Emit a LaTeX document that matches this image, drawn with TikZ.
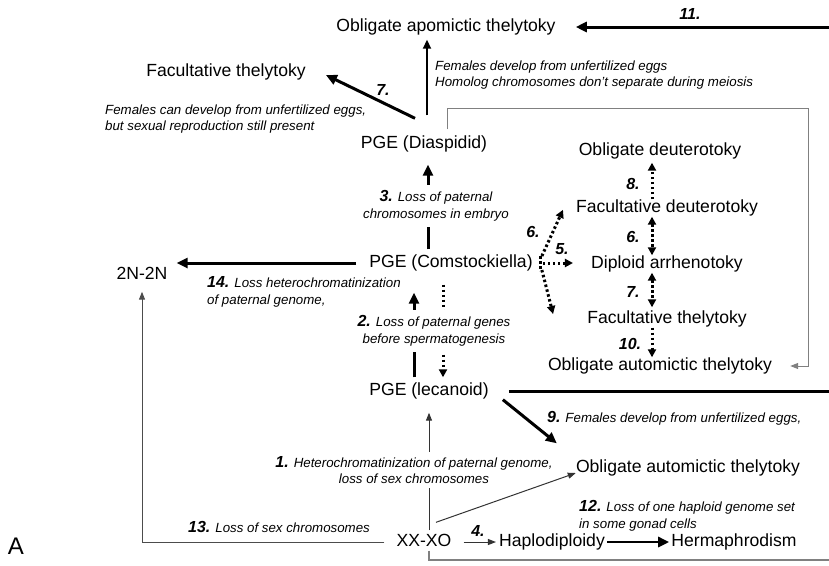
\documentclass[tikz,border=0pt]{standalone}
\usepackage{fontspec}
\setmainfont{Liberation Sans}
\usetikzlibrary{arrows.meta}
\newcommand\bn[1]{{\fontsize{16}{16}\selectfont\bfseries #1}}
\begin{document}
\begin{tikzpicture}[x=1pt,y=-1pt,
  lbl/.style={inner sep=0pt, font=\fontsize{17.6}{20}\selectfont, text height=13pt, text depth=4pt},
  note/.style={inner sep=1pt, font=\fontsize{13.3}{16.5}\selectfont\itshape},
  num/.style={inner sep=0pt, font=\fontsize{16}{18}\selectfont\bfseries\itshape},
  thickarr/.style={line width=3pt, -{Triangle[length=11pt,width=10pt]}},
  thinarr/.style={line width=1pt, draw=black!80, -{Triangle[length=8pt,width=6pt]}},
  medarr/.style={line width=1.8pt, -{Triangle[length=9pt,width=8pt]}},
  grayline/.style={line width=1.8pt, draw=black!50},
  dotline/.style={line width=3pt, dash pattern=on 2.5pt off 2.5pt},
  dotarr/.style={dotline, -{Triangle[length=8pt,width=8pt]}},
  dotdbl/.style={dotline, {Triangle[length=8pt,width=8pt]}-{Triangle[length=8pt,width=8pt]}},
]
\useasboundingbox (0,0) rectangle (829,565);

% main labels
\node[lbl] (apo) at (446,27) {Obligate apomictic thelytoky};
\node[lbl] (facT) at (226,72) {Facultative thelytoky};
\node[lbl] (diasp) at (424,144) {PGE (Diaspidid)};
\node[lbl] (comst) at (451,263) {PGE (Comstockiella)};
\node[lbl] (lec) at (429,391) {PGE (lecanoid)};
\node[lbl] (twoN) at (142,275) {2N-2N};
\node[lbl] (obD) at (660,151) {Obligate deuterotoky};
\node[lbl] (facD) at (667,208) {Facultative deuterotoky};
\node[lbl] (dipA) at (667,264) {Diploid arrhenotoky};
\node[lbl] (facT2) at (667,319) {Facultative thelytoky};
\node[lbl] (obA1) at (660,366) {Obligate automictic thelytoky};
\node[lbl] (obA2) at (688,468) {Obligate automictic thelytoky};
\node[lbl] (xx) at (424,542) {XX-XO};
\node[lbl] (hap) at (552,542) {Haplodiploidy};
\node[lbl] (herm) at (734,542) {Hermaphrodism};
\node[inner sep=0pt, font=\fontsize{24}{26}\selectfont] (A) at (16,546) {A};

% helper coordinates
\coordinate (xD) at (427,0);
\coordinate (x3) at (428,0);
\coordinate (x2a) at (414,0);
\coordinate (x2b) at (443,0);
\coordinate (cx) at (652,0);
\coordinate (gbTop) at (808,108);
\coordinate (grEnd) at (845,560);

% 11
\draw[thickarr, shorten <=20pt, shorten >=20pt] (lec.east) -- ++(360,0) |- (apo.east);
% Diaspidid -> apomictic
\draw[medarr, shorten <=20pt, shorten >=4pt] (diasp.north -| xD) -- (apo.south -| xD);
% 7 (top)
\draw[thickarr] ([xshift=-9pt,yshift=17pt]diasp.north) -- ([xshift=20pt,yshift=-3pt]facT.east);
% gray box Diaspidid -> obligate automictic
\draw[grayline, line width=1pt, -{Triangle[length=8pt,width=6pt]}, shorten <=6pt, shorten >=18pt] ([xshift=23pt]diasp.north) |- (gbTop) |- (obA1.east);
% 3
\draw[thickarr, shorten <=5pt, shorten >=12pt] (comst.north -| x3) -- (diasp.south -| x3);
\node[note, align=center, fill=white, inner ysep=6pt] (n3) at (436,206) {\bn{3.} Loss of paternal\\chromosomes in embryo};
% 14
\draw[thickarr, shorten <=13pt, shorten >=9pt] (comst.west) -- (comst.west -| twoN.east);
% 2
\draw[thickarr, shorten <=5pt, shorten >=21pt] (lec.north -| x2a) -- (comst.south -| x2a);
\draw[dotarr, shorten <=13pt, shorten >=5pt] (comst.south -| x2b) -- (lec.north -| x2b);
\node[note, align=center, fill=white, inner ysep=6pt] (n2) at (434,331) {\bn{2.} Loss of paternal genes\\before spermatogenesis};
% dotted 5, 6 from Comstockiella
\draw[dotline] ([xshift=8pt,yshift=7pt]comst.east) -- ([xshift=8pt,yshift=-8pt]comst.east);
\draw[dotarr, shorten >=2pt] ([xshift=9pt,yshift=7pt]comst.east) -- ([xshift=-12pt]facD.west);
\draw[dotarr, shorten >=18pt] ([xshift=10pt]comst.east) -- (comst.east -| dipA.west);
\draw[dotarr] ([xshift=9pt,yshift=-7pt]comst.east) -- ([xshift=-34pt,yshift=5pt]facT2.west);
% right column
\draw[dotarr, shorten >=3pt] (facD.north -| cx) -- (obD.south -| cx);
\draw[dotdbl] (facD.south -| cx) -- (dipA.north -| cx);
\draw[dotdbl, shorten >=3pt] (dipA.south -| cx) -- (facT2.north -| cx);
\draw[dotarr] (facT2.south -| cx) -- (obA1.north -| cx);
% 9
\draw[thickarr] ([xshift=14pt]lec.south east) -- ([xshift=-19pt,yshift=16pt]obA2.north west);
% 1
\draw[thinarr, shorten <=3pt, shorten >=13pt] (xx.north -| lec.south) -- (lec.south);
\node[note, align=center, fill=white, inner ysep=4pt] (n1) at (414,470) {\bn{1.} Heterochromatinization of paternal genome,\\loss of sex chromosomes};
\draw[thinarr] ([xshift=12pt,yshift=11pt]xx.north) -- ([yshift=-5pt]obA2.west);
% 13
\draw[grayline, line width=1pt, draw=black!70, -{Triangle[length=8pt,width=6pt]}, shorten <=12pt, shorten >=8pt] (xx.west) -| (twoN.south);
% bottom gray line
\draw[grayline] ([xshift=5pt]xx.south) |- (grEnd);
% 4
\draw[thinarr, shorten <=12pt, shorten >=3pt] (xx.east) -- (hap.west);
% hap -> herm
\draw[thickarr, line width=2.6pt, shorten <=2pt, shorten >=2pt] (hap.east) -- (herm.west);

% numbers
\node[num] (l11) at (690,14) {11.};
\node[num] (l7a) at (383,90) {7.};
\node[num] (l8) at (633,184) {8.};
\node[num] (l6b) at (633,237) {6.};
\node[num] (l7b) at (633,292) {7.};
\node[num] (l10) at (630,344) {10.};
\node[num] (l6a) at (533,232) {6.};
\node[num] (l5) at (562,249) {5.};
\node[num] (l4) at (478,531) {4.};

% notes
\node[note, anchor=west, align=left] (nFacT) at (104,119) {Females can develop from unfertilized eggs,\\but sexual reproduction still present};
\node[note, anchor=west, align=left] (nApo) at (434,75) {Females develop from unfertilized eggs\\Homolog chromosomes don’t separate during meiosis};
\node[note, anchor=west, align=left] (n14) at (206,292) {\bn{14.} Loss heterochromatinization\\of paternal genome,};
\node[note, anchor=west] (n9) at (546,418) {\bn{9.} Females develop from unfertilized eggs,};
\node[note, anchor=west, align=left] (n12) at (578,516) {\bn{12.} Loss of one haploid genome set\\in some gonad cells};
\node[note, anchor=west] (n13) at (187,527) {\bn{13.} Loss of sex chromosomes};
\end{tikzpicture}
\end{document}
